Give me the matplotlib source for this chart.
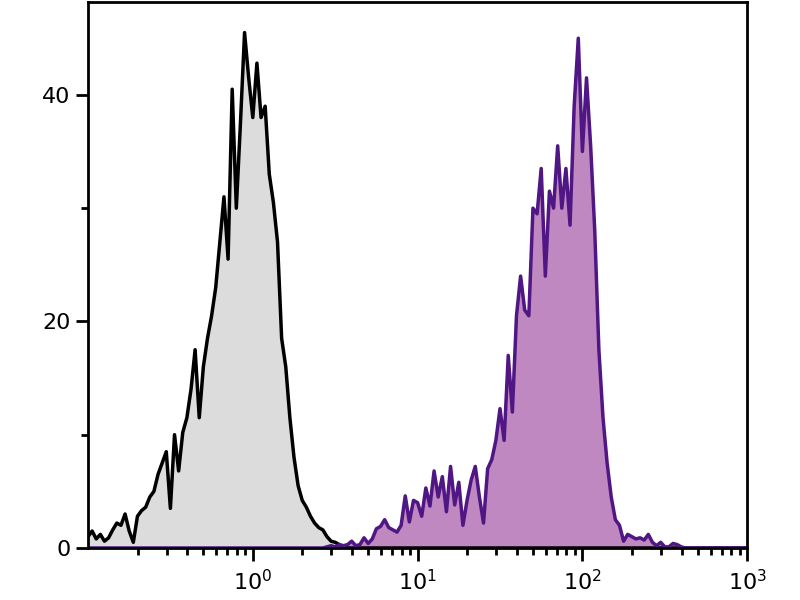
import numpy as np
import matplotlib
matplotlib.use("Agg")
import matplotlib.pyplot as plt
from matplotlib.ticker import LogLocator, NullFormatter, MultipleLocator

# channel positions: log10 from -1 to 3 in steps of 0.025
log_pos = np.arange(161) * 0.025 - 1.0
channels = 10 ** log_pos

# unstained control (grey), counts per channel
control = [1.0, 1.5, 0.8, 1.2, 0.6, 0.9, 1.6, 2.2, 2.0, 3.0,
           1.5, 0.5, 2.8, 3.3, 3.6, 4.5, 5.0, 6.5, 7.5, 8.5,
           3.5, 10.0, 6.8, 10.2, 11.5, 14.0, 17.5, 11.5, 16.0, 18.5,
           20.5, 23.0, 27.0, 31.0, 25.5, 40.5, 30.0, 37.5, 45.5, 41.5,
           38.0, 42.8, 38.0, 39.0, 33.0, 30.5, 27.0, 18.5, 16.0, 11.5,
           8.0, 5.5, 4.2, 3.6, 2.8, 2.2, 1.8, 1.6, 1.0, 0.6,
           0.5, 0.3, 0.1] + [0.0] * 98

# stained sample (purple), counts per channel
stained = [0.0] * 58 + [
           0.1, 0.2, 0.1, 0.3, 0.2, 0.3, 0.6, 0.2, 0.3, 0.9,
           0.4, 0.8, 1.7, 1.9, 2.5, 1.8, 1.6, 1.4, 2.0, 4.6,
           2.3, 4.2, 4.0, 2.8, 5.3, 3.7, 6.8, 4.5, 6.3, 3.2,
           7.2, 3.8, 5.8, 2.0, 4.2, 6.0, 7.2, 4.5, 2.2, 7.0,
           7.8, 9.5, 12.3, 9.5, 17.0, 12.0, 20.5, 24.0, 21.0, 20.5,
           30.0, 29.5, 33.5, 24.0, 31.5, 30.0, 35.5, 30.0, 33.5, 28.5,
           39.0, 45.0, 35.0, 41.5, 35.5, 28.0, 17.5, 11.5, 7.5, 4.5,
           2.5, 2.0, 0.6, 1.2, 1.0, 0.8, 0.9, 0.7, 1.2, 0.5,
           0.2, 0.5, 0.1, 0.1, 0.4, 0.3, 0.1] + [0.0] * 16

fig = plt.figure(figsize=(8, 6), dpi=100)
ax = fig.add_axes([0.11, 0.0867, 0.824, 0.91])

ax.fill_between(channels, control, 0, color="#dcdcdc", lw=0)
ax.fill_between(channels, stained, 0, color="#bf88c0", lw=0)
ax.plot(channels, control, color="black", lw=2.5)
ax.plot(channels, stained, color="#4f1684", lw=2.5)

ax.set_xscale("log")
ax.set_xlim(0.1, 1000)
ax.set_ylim(0, 48.2)

ax.set_xticks([1, 10, 100, 1000])
ax.xaxis.set_minor_locator(LogLocator(base=10, subs=np.arange(2, 10)))
ax.xaxis.set_minor_formatter(NullFormatter())
ax.set_yticks([0, 20, 40])
ax.yaxis.set_minor_locator(MultipleLocator(10))

for s in ax.spines.values():
    s.set_linewidth(2)
ax.tick_params(which="major", length=9, width=2, labelsize=16, direction="out")
ax.tick_params(which="minor", length=5, width=2, direction="out")
ax.tick_params(axis="x", which="both", top=False, pad=6)
ax.tick_params(axis="y", which="both", right=False)

fig.savefig("out.png", dpi=100)
